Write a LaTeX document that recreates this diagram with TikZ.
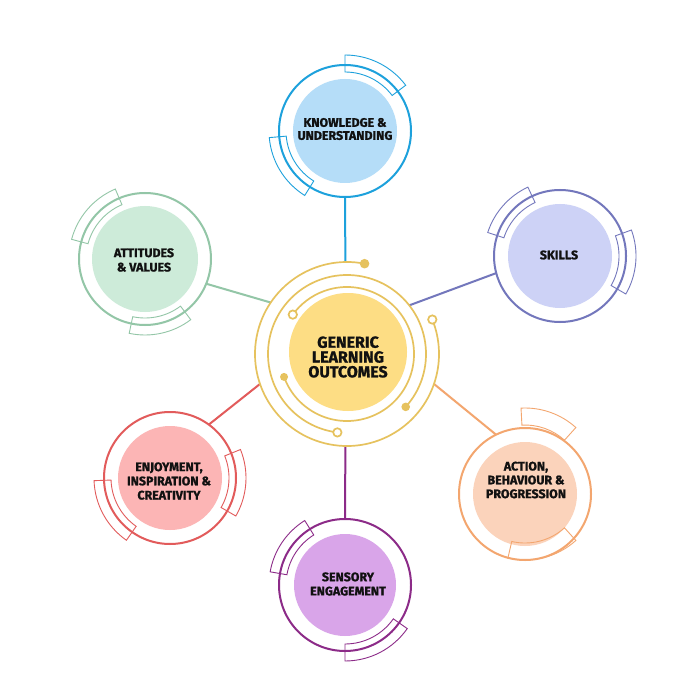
\documentclass[tikz,border=0pt]{standalone}
\usepackage{fontspec}
\setmainfont{Fira Sans}[BoldFeatures={FakeBold=1.2}]
\usetikzlibrary{calc}
\definecolor{txt}{HTML}{111111}
\definecolor{blueR}{HTML}{1DA1DC}\definecolor{blueF}{HTML}{B5DDF8}
\definecolor{skillR}{HTML}{7377BC}\definecolor{skillF}{HTML}{CDD2F6}
\definecolor{attR}{HTML}{93C6A7}\definecolor{attF}{HTML}{CDEBD9}
\definecolor{enjR}{HTML}{E25B5B}\definecolor{enjF}{HTML}{FCB5B5}
\definecolor{actR}{HTML}{F3A66F}\definecolor{actF}{HTML}{FBD3BB}
\definecolor{sensR}{HTML}{8C2B88}\definecolor{sensF}{HTML}{D9A5E9}
\definecolor{goldR}{HTML}{E6C25E}\definecolor{goldF}{HTML}{FDDD84}
\newcommand\arcbox[4]{%
  \draw[#4, line width=0.9pt] ($#1+(#2:59)$) arc[start angle=#2, end angle=#3, radius=59]
    -- ($#1+(#3:76)$) arc[start angle=#3, end angle=#2, radius=76] -- cycle;}
\begin{document}
\begin{tikzpicture}[x=1pt,y=1pt,
  ring/.style={circle, draw=#1, line width=2pt, minimum size=132pt, inner sep=0pt, outer sep=0pt},
  lbl/.style={align=center, font=\bfseries\fontsize{12.4}{13}\selectfont, text=txt, inner sep=0pt},
  conn/.style={line width=2pt},
  gold/.style={draw=goldR, line width=1.7pt},
]
\useasboundingbox[fill=white] (0,0) rectangle (700,-700);
\coordinate (c0) at (347,-354);
\node[circle, minimum size=184pt, inner sep=0pt, outer sep=0pt] (ctr) at (c0) {};
\node[circle, minimum size=158pt, inner sep=0pt, outer sep=0pt] (ctrB) at (c0) {};
% outer rings
\node[ring=blueR] (know) at (345,-131) {};
\node[ring=skillR] (skill) at (560,-256) {};
\node[ring=attR] (att) at (145,-259) {};
\node[ring=enjR] (enj) at (170,-478) {};
\node[ring=actR] (act) at (525,-494) {};
\node[ring=sensR] (sens) at (345,-585) {};
% connectors
\draw[conn, blueR] (ctr.91) -- (know.270);
\draw[conn, skillR] (ctrB.38) -- (skill.195);
\draw[conn, attR] (ctr.146) -- (att.-22);
\draw[conn, enjR] (ctr.199) -- (enj.54);
\draw[conn, actR] (ctr.-19) -- (act.116);
\draw[conn, sensR] (ctr.269) -- (sens.90);
% fills
\fill[blueF] (know) circle[radius=52];
\fill[skillF] (skill) circle[radius=52];
\fill[attF] (att) circle[radius=53];
\fill[enjF] (enj) circle[radius=52];
\fill[actF] (act) circle[radius=52];
\fill[sensF] (sens) circle[radius=51];
% brackets
\arcbox{(know)}{37}{90}{blueR}
\arcbox{(know)}{185}{238}{blueR}
\arcbox{(skill)}{115}{162}{skillR}
\arcbox{(skill)}{-30}{20}{skillR}
\arcbox{(att)}{113}{165}{attR}
\arcbox{(att)}{258}{307}{attR}
\arcbox{(enj)}{-30}{22}{enjR}
\arcbox{(enj)}{182}{235}{enjR}
\arcbox{(act)+(0,10)}{48}{93}{actR}
\arcbox{(act)+(0,10)}{257}{312}{actR}
\arcbox{(sens)}{122}{170}{sensR}
\arcbox{(sens)}{270}{325}{sensR}
% center
\fill[goldF] (348,-352) circle[radius=59];
\draw[gold] ($(c0)+(79:92)$) arc[start angle=79, end angle=382, radius=92];
\draw[gold] ($(c0)+(-42:79)$) arc[start angle=-42, end angle=263, radius=79];
\draw[gold] ($(c0)+(200:67)$) arc[start angle=200, end angle=504, radius=67];
\fill[goldR] ($(c0)+(79:92)$) circle[radius=4.8];
\draw[gold, fill=white] ($(c0)+(22:92)$) circle[radius=4.2];
\fill[goldR] ($(c0)+(-42:79)$) circle[radius=4.3];
\draw[gold, fill=white] ($(c0)+(263:79)$) circle[radius=4.2];
\fill[goldR] ($(c0)+(200:67)$) circle[radius=4];
\draw[gold, fill=white] ($(c0)+(144:67)$) circle[radius=4.2];
% labels
\node[lbl, font=\bfseries\fontsize{16}{14.8}\selectfont] (ctrT) at (348,-357) {GENERIC\\LEARNING\\OUTCOMES};
\node[lbl] (knowT) at (345,-129) {KNOWLEDGE \&\\UNDERSTANDING};
\node[lbl] (skillT) at (559,-255) {SKILLS};
\node[lbl, font=\bfseries\fontsize{12.4}{14.4}\selectfont] (attT) at (144,-260) {ATTITUDES\\\& VALUES};
\node[lbl, font=\bfseries\fontsize{12.4}{14.2}\selectfont] (enjT) at (169,-481) {ENJOYMENT,\\INSPIRATION \&\\CREATIVITY};
\node[lbl, font=\bfseries\fontsize{12.4}{13.8}\selectfont] (actT) at (526,-480) {ACTION,\\BEHAVIOUR \&\\PROGRESSION};
\node[lbl, font=\bfseries\fontsize{12.4}{14.2}\selectfont] (sensT) at (348,-584) {SENSORY\\ENGAGEMENT};
\end{tikzpicture}
\end{document}
